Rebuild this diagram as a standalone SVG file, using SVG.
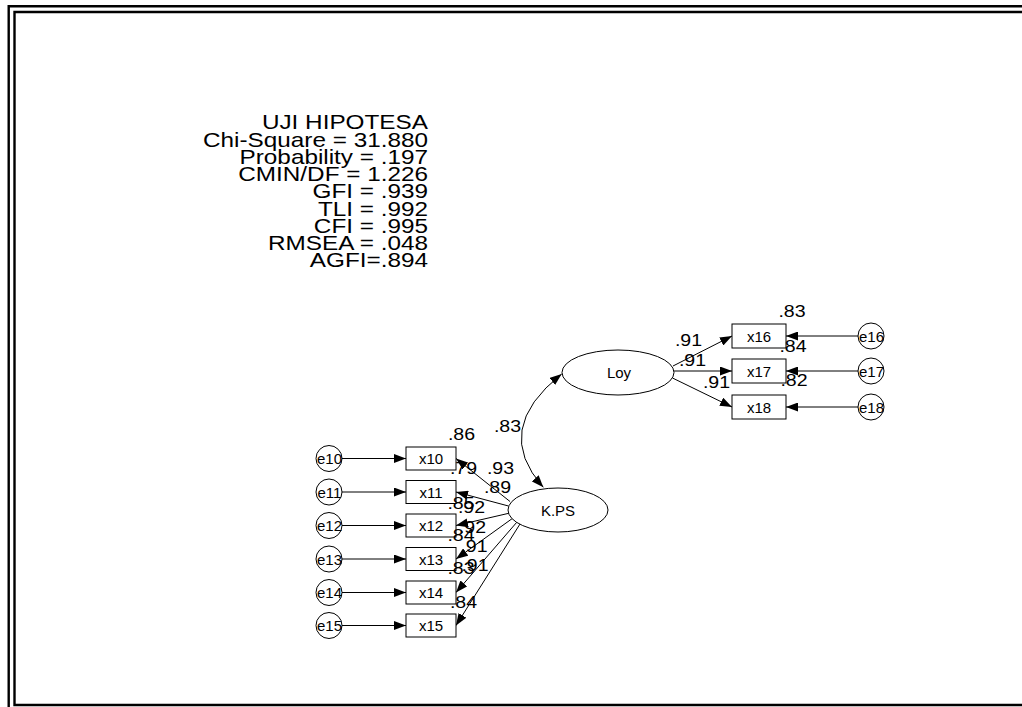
<svg xmlns="http://www.w3.org/2000/svg" width="1022" height="707" viewBox="0 0 1022 707">
<style>
  text { font-family: "Liberation Sans", Arial, sans-serif; fill: #000; }
  .lbl { font-size: 17px; text-anchor: middle; }
  .nm { font-size: 15px; text-anchor: middle; }
  .st { font-size: 21px; text-anchor: end; }
  .box { fill: #fff; stroke: #000; stroke-width: 1; }
  .lat { fill: #fff; stroke: #000; stroke-width: 1; }
  .err { fill: none; stroke: #000; stroke-width: 1; }
  .con line, .con path { stroke: #000; stroke-width: 1; fill: none; }
  .frame { fill: none; stroke: #000; stroke-width: 2.4; }
</style>
<defs>
  <marker id="ah" markerUnits="userSpaceOnUse" markerWidth="12" markerHeight="9" refX="12" refY="4.5" orient="auto">
    <path d="M0,0 L12,4.5 L0,9 z" fill="#000"/>
  </marker>
  <marker id="ahs" markerUnits="userSpaceOnUse" markerWidth="12" markerHeight="9" refX="0" refY="4.5" orient="auto">
    <path d="M12,0 L0,4.5 L12,9 z" fill="#000"/>
  </marker>
</defs>
<rect width="1022" height="707" fill="#fff"/>
<g id="frame">
  <path class="frame" d="M8.7,707 V6.2 H1022"/>
  <path class="frame" d="M1022,12 H14.5 V705 H1022"/>
</g>
<g id="fit-stats">
  <g transform="translate(428,0) scale(1.158,1)">
    <text class="st" x="0" y="129.5">UJI HIPOTESA</text>
    <text class="st" x="0" y="146.8">Chi-Square = 31.880</text>
    <text class="st" x="0" y="164">Probability = .197</text>
    <text class="st" x="0" y="181.3">CMIN/DF = 1.226</text>
    <text class="st" x="0" y="198.5">GFI = .939</text>
    <text class="st" x="0" y="215.8">TLI = .992</text>
    <text class="st" x="0" y="233">CFI = .995</text>
    <text class="st" x="0" y="250.3">RMSEA = .048</text>
    <text class="st" x="0" y="267.5">AGFI=.894</text>
  </g>
</g>
<g id="connectors" class="con">
  <line x1="342" y1="458.5" x2="406" y2="458.5" marker-end="url(#ah)"/>
  <line x1="342" y1="492" x2="406" y2="492" marker-end="url(#ah)"/>
  <line x1="342" y1="525.5" x2="406" y2="525.5" marker-end="url(#ah)"/>
  <line x1="342" y1="559" x2="406" y2="559" marker-end="url(#ah)"/>
  <line x1="342" y1="592.5" x2="406" y2="592.5" marker-end="url(#ah)"/>
  <line x1="342" y1="625.5" x2="406" y2="625.5" marker-end="url(#ah)"/>
  <line x1="858" y1="336" x2="786" y2="336" marker-end="url(#ah)"/>
  <line x1="858" y1="371" x2="786" y2="371" marker-end="url(#ah)"/>
  <line x1="858" y1="407" x2="786" y2="407" marker-end="url(#ah)"/>
  <line x1="510" y1="501.5" x2="456" y2="458.5" marker-end="url(#ah)"/>
  <line x1="508.5" y1="506" x2="456" y2="492" marker-end="url(#ah)"/>
  <line x1="510" y1="513" x2="456" y2="525.5" marker-end="url(#ah)"/>
  <line x1="513" y1="518" x2="456" y2="559" marker-end="url(#ah)"/>
  <line x1="517" y1="522" x2="456" y2="592.5" marker-end="url(#ah)"/>
  <line x1="520" y1="524" x2="456" y2="625.5" marker-end="url(#ah)"/>
  <line x1="673" y1="366" x2="732" y2="336" marker-end="url(#ah)"/>
  <line x1="674" y1="371" x2="732" y2="371" marker-end="url(#ah)"/>
  <line x1="672.5" y1="378" x2="732" y2="407" marker-end="url(#ah)"/>
  <path d="M543.3,487.3 Q491.5,429.4 561.7,374" marker-start="url(#ahs)" marker-end="url(#ah)"/>
</g>
<g id="Loy"><ellipse class="lat" cx="618" cy="372.5" rx="56" ry="22.5"/><text class="nm" x="619" y="378">Loy</text></g>
<g id="KPS"><ellipse class="lat" cx="558" cy="510" rx="50" ry="22"/><text class="nm" x="558" y="515.5">K.PS</text></g>
<g id="x10"><rect class="box" x="406" y="447" width="50" height="23"/><text class="nm" x="431" y="464">x10</text></g>
<g id="x11"><rect class="box" x="406" y="480.5" width="50" height="23"/><text class="nm" x="431" y="497.5">x11</text></g>
<g id="x12"><rect class="box" x="406" y="514" width="50" height="23"/><text class="nm" x="431" y="531">x12</text></g>
<g id="x13"><rect class="box" x="406" y="547.5" width="50" height="23"/><text class="nm" x="431" y="564.5">x13</text></g>
<g id="x14"><rect class="box" x="406" y="581" width="50" height="23"/><text class="nm" x="431" y="598">x14</text></g>
<g id="x15"><rect class="box" x="406" y="614" width="50" height="23"/><text class="nm" x="431" y="631">x15</text></g>
<g id="x16"><rect class="box" x="732" y="324" width="54" height="24"/><text class="nm" x="759" y="341.5">x16</text></g>
<g id="x17"><rect class="box" x="732" y="359" width="54" height="24"/><text class="nm" x="759" y="376.5">x17</text></g>
<g id="x18"><rect class="box" x="732" y="395" width="54" height="24"/><text class="nm" x="759" y="412.5">x18</text></g>
<g id="e10"><circle class="err" cx="329" cy="458.5" r="13"/><text class="nm" x="329.5" y="464">e10</text></g>
<g id="e11"><circle class="err" cx="329" cy="492" r="13"/><text class="nm" x="329.5" y="497.5">e11</text></g>
<g id="e12"><circle class="err" cx="329" cy="525.5" r="13"/><text class="nm" x="329.5" y="531">e12</text></g>
<g id="e13"><circle class="err" cx="329" cy="559" r="13"/><text class="nm" x="329.5" y="564.5">e13</text></g>
<g id="e14"><circle class="err" cx="329" cy="592.5" r="13"/><text class="nm" x="329.5" y="598">e14</text></g>
<g id="e15"><circle class="err" cx="329" cy="625.5" r="13"/><text class="nm" x="329.5" y="631">e15</text></g>
<g id="e16"><circle class="err" cx="871" cy="336" r="13"/><text class="nm" x="871.5" y="341.5">e16</text></g>
<g id="e17"><circle class="err" cx="871" cy="371" r="13"/><text class="nm" x="871.5" y="376.5">e17</text></g>
<g id="e18"><circle class="err" cx="871" cy="407" r="13"/><text class="nm" x="871.5" y="412.5">e18</text></g>
<g id="labels">
  <text class="lbl" transform="translate(461.5,440) scale(1.15,1)">.86</text>
  <text class="lbl" transform="translate(463.5,474) scale(1.15,1)">.79</text>
  <text class="lbl" transform="translate(500.5,474) scale(1.15,1)">.93</text>
  <text class="lbl" transform="translate(497.5,492.7) scale(1.15,1)">.89</text>
  <text class="lbl" transform="translate(461,509) scale(1.15,1)">.85</text>
  <text class="lbl" transform="translate(471.5,513) scale(1.15,1)">.92</text>
  <text class="lbl" transform="translate(472.5,533) scale(1.15,1)">.92</text>
  <text class="lbl" transform="translate(461,541) scale(1.15,1)">.84</text>
  <text class="lbl" transform="translate(474,552) scale(1.15,1)">.91</text>
  <text class="lbl" transform="translate(461,574) scale(1.15,1)">.83</text>
  <text class="lbl" transform="translate(475,571) scale(1.15,1)">.91</text>
  <text class="lbl" transform="translate(463.5,608) scale(1.15,1)">.84</text>
  <text class="lbl" transform="translate(507.5,432) scale(1.15,1)">.83</text>
  <text class="lbl" transform="translate(688.5,346) scale(1.15,1)">.91</text>
  <text class="lbl" transform="translate(692.5,366) scale(1.15,1)">.91</text>
  <text class="lbl" transform="translate(716.5,388) scale(1.15,1)">.91</text>
  <text class="lbl" transform="translate(792,317) scale(1.15,1)">.83</text>
  <text class="lbl" transform="translate(793,352) scale(1.15,1)">.84</text>
  <text class="lbl" transform="translate(794,386) scale(1.15,1)">.82</text>
</g>
</svg>
